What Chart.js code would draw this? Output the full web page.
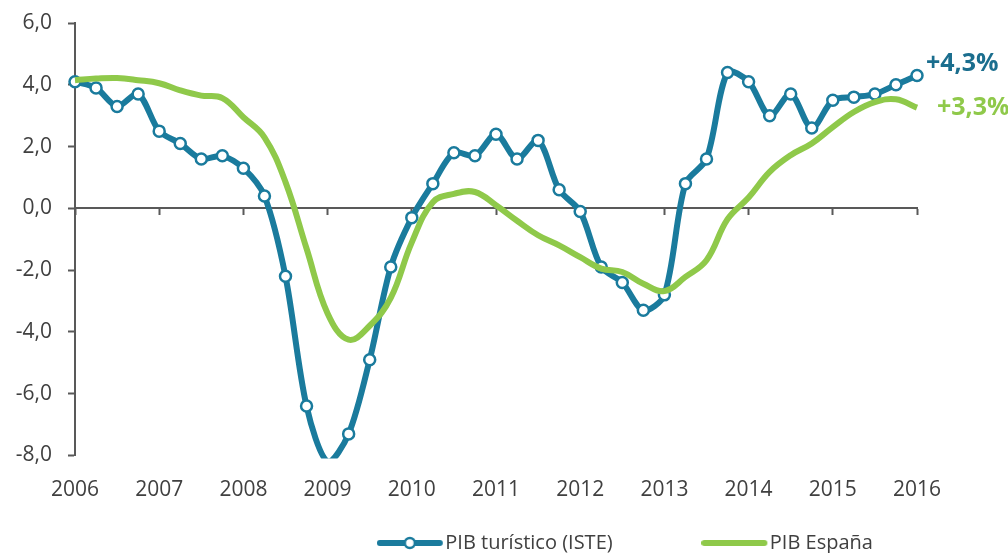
<!DOCTYPE html>
<html>
<head>
<meta charset="utf-8">
<script src="https://cdn.jsdelivr.net/npm/chart.js@4.4.1/dist/chart.umd.min.js"></script>
<style>
  html, body { margin: 0; padding: 0; background: #ffffff; }
  #wrap { width: 1008px; height: 553px; position: relative; }
</style>
</head>
<body>
<div id="wrap"><canvas id="c" width="1008" height="553"></canvas></div>
<script>
// ---- Data ----
const years = ['2006','2007','2008','2009','2010','2011','2012','2013','2014','2015','2016'];
const quarters = ['T1','T2','T3','T4'];

// PIB turístico (ISTE), quarterly, 2006 T1 .. 2016 T1
const pibTuristico = [
  4.1, 3.9, 3.3, 3.7,
  2.5, 2.1, 1.6, 1.7,
  1.3, 0.4, -2.2, -6.4,
  -8.2, -7.3, -4.9, -1.9,
  -0.3, 0.8, 1.8, 1.7,
  2.4, 1.6, 2.2, 0.6,
  -0.1, -1.9, -2.4, -3.3,
  -2.8, 0.8, 1.6, 4.4,
  4.1, 3.0, 3.7, 2.6,
  3.5, 3.6, 3.7, 4.0,
  4.3
];

// PIB España, quarterly, 2006 T1 .. 2016 T1
const pibEspana = [
  4.15, 4.2, 4.22, 4.15,
  4.05, 3.82, 3.65, 3.57,
  2.95, 2.3, 0.85, -1.3,
  -3.4, -4.25, -3.8, -2.9,
  -1.1, 0.2, 0.47, 0.53,
  0.1, -0.4, -0.87, -1.2,
  -1.58, -1.95, -2.06, -2.44,
  -2.68, -2.22, -1.68, -0.35,
  0.35, 1.18, 1.72, 2.1,
  2.63, 3.12, 3.44, 3.53,
  3.26
];

const yTicks = [-8, -6, -4, -2, 0, 2, 4, 6];
const endLabels = ['+4,3%', '+3,3%'];
const seriesNames = ['PIB turístico (ISTE)', 'PIB España'];

// category labels built from the years / quarters lists
const labels = [];
years.forEach((y, i) => {
  const n = (i === years.length - 1) ? 1 : quarters.length;
  for (let q = 0; q < n; q++) labels.push(y + ' ' + quarters[q]);
});

// ---- Styles ----
const BLUE = '#1a7b9d';
const BLUE_TXT = '#1b6e8e';
const GREEN = '#8fc94a';
const AXIS = '#595959';
const TEXT = '#404040';
Chart.defaults.font.family = "'Open Sans', sans-serif";

function legendIcon(color, withPoint) {
  const c = document.createElement('canvas');
  c.width = 97; c.height = 16;
  const g = c.getContext('2d');
  g.strokeStyle = color; g.lineWidth = 6; g.lineCap = 'round';
  g.beginPath(); g.moveTo(3, 8); g.lineTo(63, 8); g.stroke();
  if (withPoint) {
    g.beginPath(); g.arc(33, 8, 5, 0, Math.PI * 2);
    g.fillStyle = '#ffffff'; g.fill();
    g.lineWidth = 2.5; g.stroke();
  }
  return c;
}
const iconBlue = legendIcon(BLUE, true);
const iconGreen = legendIcon(GREEN, false);
const NB = '\u00a0';

const endLabelPlugin = {
  id: 'endLabels',
  afterDatasetsDraw(chart) {
    const ctx = chart.ctx;
    const specs = [
      { ds: 0, text: endLabels[0], color: BLUE_TXT, dx: 9, dy: -12 },
      { ds: 1, text: endLabels[1], color: GREEN, dx: 20, dy: 0 }
    ];
    ctx.save();
    ctx.font = "bold 25px 'Open Sans', sans-serif";
    ctx.textAlign = 'left';
    ctx.textBaseline = 'middle';
    specs.forEach(s => {
      const meta = chart.getDatasetMeta(s.ds);
      const pt = meta.data[meta.data.length - 1];
      ctx.fillStyle = s.color;
      ctx.fillText(s.text, pt.x + s.dx, pt.y + s.dy);
    });
    ctx.restore();
  }
};

new Chart(document.getElementById('c'), {
  type: 'line',
  data: {
    labels: labels,
    datasets: [
      {
        label: seriesNames[0],
        data: pibTuristico,
        borderColor: BLUE,
        borderWidth: 6,
        pointRadius: (ctx) => (ctx.raw < yTicks[0] ? 0 : 5.5),
        pointBackgroundColor: '#ffffff',
        pointBorderColor: BLUE,
        pointBorderWidth: 2.5,
        tension: 0.3,
        order: 1,
        clip: { left: 12, right: 12, top: 12, bottom: 3 }
      },
      {
        label: seriesNames[1],
        data: pibEspana,
        borderColor: GREEN,
        borderWidth: 6,
        pointRadius: 0,
        tension: 0.4,
        order: 0
      }
    ]
  },
  options: {
    responsive: false,
    animation: false,
    layout: { padding: { left: 13, right: 91, top: 23, bottom: -10 } },
    plugins: {
      tooltip: { enabled: false },
      legend: {
        position: 'bottom',
        align: 'end',
        onClick: () => {},
        labels: {
          usePointStyle: true,
          pointStyleWidth: 20,
          padding: 2.5,
          color: TEXT,
          font: { size: 20 },
          generateLabels: () => [
            { text: seriesNames[0] + NB.repeat(24), pointStyle: iconBlue, fillStyle: 'rgba(0,0,0,0)', strokeStyle: 'rgba(0,0,0,0)', lineWidth: 0, fontColor: TEXT, hidden: false, datasetIndex: 0 },
            { text: seriesNames[1] + NB.repeat(8), pointStyle: iconGreen, fillStyle: 'rgba(0,0,0,0)', strokeStyle: 'rgba(0,0,0,0)', lineWidth: 0, fontColor: TEXT, hidden: false, datasetIndex: 1 }
          ]
        }
      }
    },
    scales: {
      x: {
        type: 'category',
        position: 'bottom',
        grid: { display: false, drawTicks: false },
        border: { display: false },
        ticks: {
          autoSkip: false,
          maxRotation: 0,
          padding: 22,
          color: TEXT,
          font: { size: 21 },
          callback: function (val, idx) {
            return idx % 4 === 0 ? this.getLabelForValue(val).slice(0, 4) : '';
          }
        },
        afterFit: (s) => { s.height = 75; }
      },
      x0: {
        type: 'category',
        axis: 'x',
        position: { y: 0 },
        grid: {
          display: true,
          drawOnChartArea: false,
          drawTicks: true,
          tickLength: 6,
          tickWidth: 2,
          tickColor: (ctx) => (ctx.index % 4 === 0 ? AXIS : 'rgba(0,0,0,0)')
        },
        border: { display: true, color: AXIS, width: 2 },
        ticks: { display: false }
      },
      y: {
        min: yTicks[0],
        max: yTicks[yTicks.length - 1],
        afterBuildTicks: (s) => { s.ticks = yTicks.map(v => ({ value: v })); },
        grid: {
          display: true,
          drawOnChartArea: false,
          drawTicks: true,
          tickLength: 7,
          tickWidth: 2,
          tickColor: AXIS
        },
        border: { display: true, color: AXIS, width: 2 },
        ticks: {
          padding: 16,
          color: TEXT,
          font: { size: 21 },
          callback: (v) => Number(v).toFixed(1).replace('.', ',')
        },
        afterFit: (s) => { s.width = 62; s.paddingTop = 0; s.paddingBottom = 0; }
      }
    }
  },
  plugins: [endLabelPlugin]
});
</script>
</body>
</html>
